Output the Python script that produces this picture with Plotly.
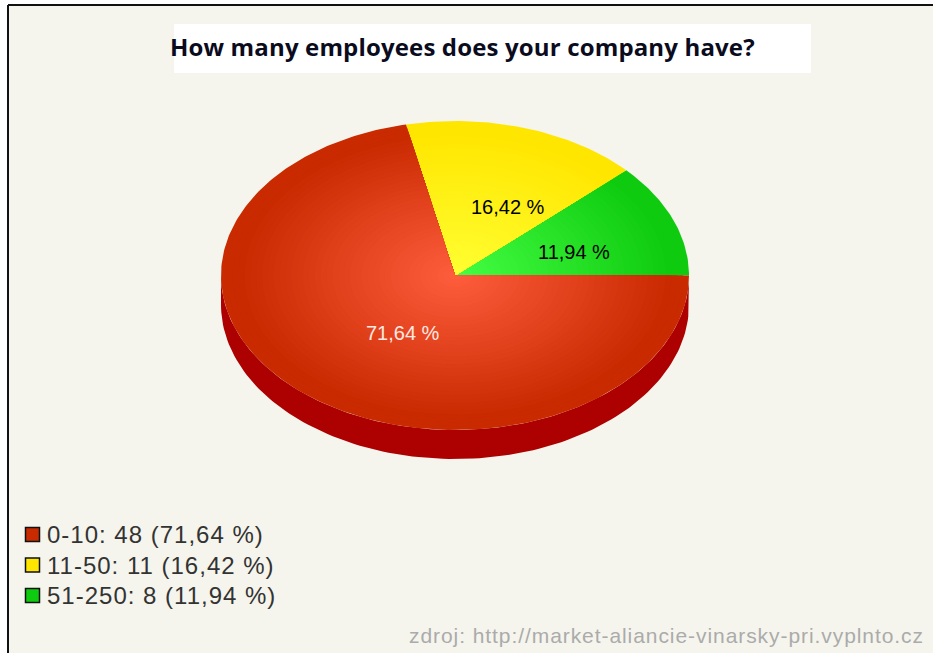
import math
import plotly.graph_objects as go

# Survey answers, listed in the order the slices run counter-clockwise from 3 o'clock
categories = ["51-250", "11-50", "0-10"]
counts = [8, 11, 48]
percent_labels = ["11,94 %", "16,42 %", "71,64 %"]
legend_order = [2, 1, 0]

centre_colours = ["#45FF45", "#FFFF33", "#FF5E3E"]
edge_colours = ["#0FCB0F", "#FFE600", "#C92A00"]
legend_colours = ["#0FCB0F", "#FFE600", "#C92A00"]
side_colour = "#AD0000"
panel_colour = "#F5F5ED"

W, H = 933, 653
CX, CY = 455, 275.5     # pie centre, px
RX, RY = 234, 154.5     # pie radii, px
DEPTH = 29 / RY         # height of the rim in y-axis units
LAYERS = 40


def px_x(x):
    return x / W


def px_y(y):
    return 1 - y / H


def mix(a, b, t):
    ca = [int(a[i:i + 2], 16) for i in (1, 3, 5)]
    cb = [int(b[i:i + 2], 16) for i in (1, 3, 5)]
    return "rgb(%d,%d,%d)" % tuple(round(p + (q - p) * t) for p, q in zip(ca, cb))


def wedge(start, end, r=1.0):
    n = max(3, int((end - start) * 60))
    xs, ys = [0.0], [0.0]
    for k in range(n + 1):
        a = start + (end - start) * k / n
        xs.append(r * math.cos(a))
        ys.append(r * math.sin(a))
    xs.append(0.0)
    ys.append(0.0)
    return xs, ys


fig = go.Figure()

# Rim of the pie below the visible front edge
steps = 120
rim_top = [(math.cos(math.pi + math.pi * k / steps), math.sin(math.pi + math.pi * k / steps)) for k in range(steps + 1)]
rim_x = [p[0] for p in rim_top] + [p[0] for p in reversed(rim_top)]
rim_y = [p[1] for p in rim_top] + [p[1] - DEPTH for p in reversed(rim_top)]
fig.add_trace(go.Scatter(x=rim_x, y=rim_y, mode="lines", fill="toself", fillcolor=side_colour,
                         line=dict(width=0, color=side_colour), hoverinfo="skip", showlegend=False))

# Slices, each built from nested wedges that shade from the rim colour towards the centre
total = sum(counts)
angle = 0.0
for i, count in enumerate(counts):
    sweep = 2 * math.pi * count / total
    for layer in range(LAYERS):
        r = 1 - layer / LAYERS
        t = min(1.0, r / 0.93)
        colour = mix(centre_colours[i], edge_colours[i], t)
        xs, ys = wedge(angle, angle + sweep, r)
        fig.add_trace(go.Scatter(x=xs, y=ys, mode="lines", fill="toself", fillcolor=colour,
                                 line=dict(width=0, color=colour), hoverinfo="skip", showlegend=False,
                                 name=categories[i]))
    angle += sweep

shapes = [
    # Chart panel with its dark top and left border
    dict(type="rect", xref="paper", yref="paper", x0=px_x(8), x1=1, y0=0, y1=px_y(5),
         fillcolor=panel_colour, line=dict(width=0), layer="below"),
    dict(type="line", xref="paper", yref="paper", x0=px_x(8), x1=1, y0=px_y(5), y1=px_y(5),
         line=dict(color="#111111", width=2), layer="below"),
    dict(type="line", xref="paper", yref="paper", x0=px_x(8), x1=px_x(8), y0=0, y1=px_y(5),
         line=dict(color="#111111", width=2), layer="below"),
    # White band behind the heading
    dict(type="rect", xref="paper", yref="paper", x0=px_x(174), x1=px_x(811), y0=px_y(73), y1=px_y(24),
         fillcolor="#FFFFFF", line=dict(width=0), layer="below"),
]

annotations = [
    dict(x=px_x(168), y=px_y(46.5), xref="paper", yref="paper", xanchor="left", yanchor="middle", showarrow=False,
         text='<b><span style="letter-spacing:0.15px">How many employees does your company have?</span></b>',
         font=dict(family="Open Sans", size=24, color="#0B0B1E")),
    dict(x=px_x(926), y=px_y(635), xref="paper", yref="paper", xanchor="right", yanchor="middle", showarrow=False,
         text='<span style="letter-spacing:0.93px">zdroj: http://market-aliancie-vinarsky-pri.vyplnto.cz</span>',
         font=dict(family="Liberation Sans", size=21, color="#ABABAB")),
]

# Percentage labels on the slices
label_positions = [(574, 252), (508, 207), (403, 333)]
label_colours = ["#000000", "#000000", "#FFE9E2"]
for text, (lx, ly), colour in zip(percent_labels, label_positions, label_colours):
    annotations.append(dict(x=px_x(lx), y=px_y(ly), xref="paper", yref="paper", showarrow=False,
                            xanchor="center", yanchor="middle", text=text,
                            font=dict(family="Liberation Sans", size=20, color=colour)))

# Legend rows: swatch plus "category: count (percent)"
legend_rows = [534.5, 565, 595.5]
for row, i in zip(legend_rows, legend_order):
    shapes.append(dict(type="rect", xref="paper", yref="paper", x0=px_x(25.5), x1=px_x(39.5),
                       y0=px_y(row + 7), y1=px_y(row - 7), fillcolor=legend_colours[i],
                       line=dict(color="#111111", width=1.5)))
    annotations.append(dict(x=px_x(45), y=px_y(row), xref="paper", yref="paper", showarrow=False,
                            xanchor="left", yanchor="middle",
                            text='<span style="letter-spacing:1px">%s: %d (%s)</span>'
                                 % (categories[i], counts[i], percent_labels[i]),
                            font=dict(family="Liberation Sans", size=24, color="#333333")))

fig.update_layout(
    width=W, height=H, margin=dict(l=0, r=0, t=0, b=0),
    paper_bgcolor="#FFFFFF", plot_bgcolor="rgba(0,0,0,0)", showlegend=False,
    shapes=shapes, annotations=annotations,
    xaxis=dict(range=[-CX / RX, (W - CX) / RX], visible=False, fixedrange=True),
    yaxis=dict(range=[-(H - CY) / RY, CY / RY], visible=False, fixedrange=True),
)

fig.write_html("out.html", config=dict(displayModeBar=False))
